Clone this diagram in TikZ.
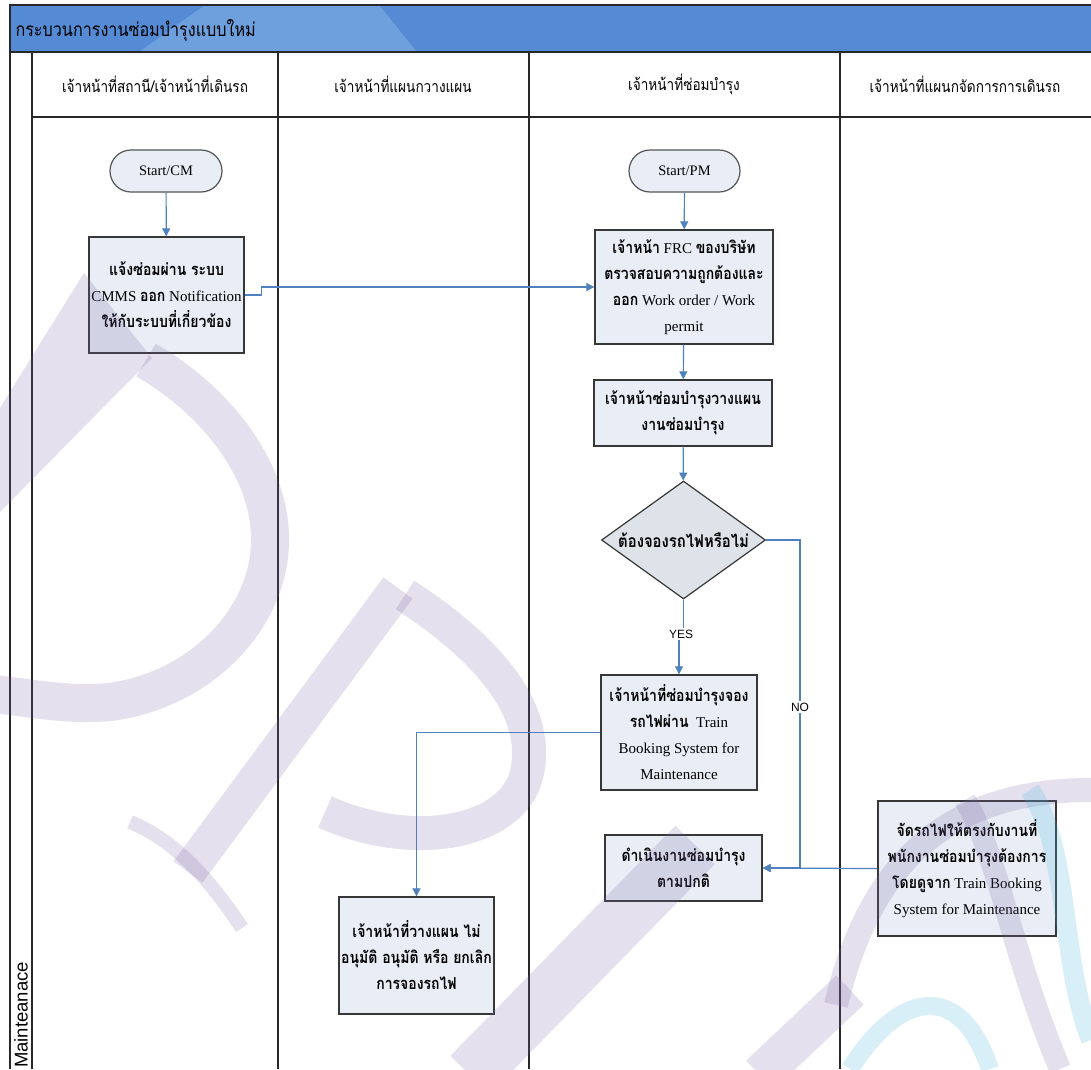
\documentclass[tikz,border=0pt]{standalone}
\usepackage{fontspec}
\setmainfont{Liberation Serif}
\newfontfamily\thfont[Script=Thai,FakeStretch=0.85]{Loma}
\newfontfamily\arialfont{Liberation Sans}
\usetikzlibrary{shapes.geometric,shapes.misc,arrows.meta}
\newcommand{\tht}[1]{{\thfont\bfseries\fontsize{16.5}{26}\selectfont #1}}

\definecolor{barblue}{RGB}{84,139,212}
\definecolor{barlight}{RGB}{110,160,222}
\definecolor{flowblue}{RGB}{79,129,189}
\definecolor{boxfill}{RGB}{233,238,246}
\definecolor{boxline}{RGB}{55,55,55}
\definecolor{termline}{RGB}{85,85,85}
\definecolor{gridline}{RGB}{40,40,40}
\definecolor{wmlav}{RGB}{120,100,165}
\definecolor{wmteal}{RGB}{80,185,225}

\tikzset{
  procbox/.style={rectangle, draw=boxline, line width=1.4pt, fill=boxfill, inner sep=0pt, align=center, font=\fontsize{15}{26}\selectfont},
  termbox/.style={rounded rectangle, draw=termline, line width=1.2pt, fill=boxfill, inner sep=0pt, font=\fontsize{14.5}{16}\selectfont},
  decbox/.style={diamond, draw=boxline, line width=1.2pt, fill=boxfill!90!gray, inner sep=0pt},
  flow/.style={draw=flowblue, line width=1.2pt, -{Triangle[width=8pt,length=8pt]}},
  flowlabel/.style={fill=white, inner sep=2pt, font=\arialfont\fontsize{12}{14}\selectfont},
  lanehead/.style={font=\thfont\fontsize{16}{18}\selectfont},
  grid/.style={draw=gridline, line width=1.2pt},
  wm/.style={draw=wmlav, draw opacity=0.2},
  wmfill/.style={fill=wmlav, fill opacity=0.2},
  wmt/.style={draw=wmteal, draw opacity=0.22},
}

\begin{document}
\begin{tikzpicture}[x=1pt,y=-1pt]
\useasboundingbox (0,0) rectangle (1091,1069);
\clip (0,0) rectangle (1091,1069);
\fill[white] (0,0) rectangle (1091,1069);

% pool title bar
\fill[barblue] (10,5) rectangle (1091,52);
\fill[barlight] (139,52) -- (205,5) -- (379,5) -- (417,52) -- cycle;
\node[anchor=west, font=\thfont\fontsize{19}{20}\selectfont] (title) at (12,30) {กระบวนการงานซ่อมบำรุงแบบใหม่};

% lane grid
\draw[grid] (1091,5) -- (10,5) -- (10,1069);
\draw[grid] (10,52) -- (1091,52);
\draw[grid] (32,117) -- (1091,117);
\draw[grid] (32,52) -- (32,1069);
\foreach \lx in {278,529,840} \draw[grid] (\lx,52) -- (\lx,1069);

% lane headings
\node[lanehead] (h1) at (155,84) {เจ้าหน้าที่สถานี/เจ้าหน้าที่เดินรถ};
\node[lanehead] (h2) at (403,84) {เจ้าหน้าที่แผนกวางแผน};
\node[lanehead] (h3) at (684,84) {เจ้าหน้าที่ซ่อมบำรุง};
\node[lanehead] (h4) at (965,84) {เจ้าหน้าที่แผนกจัดการการเดินรถ};
\node[rotate=90, anchor=west, inner sep=0pt, font=\arialfont\fontsize{18.5}{20}\selectfont] (pool) at (21,1068) {Mainteanace};

% process steps
\node[termbox, minimum width=112pt, minimum height=42pt] (scm) at (166,171) {Start/CM};
\node[termbox, minimum width=111pt, minimum height=42pt] (spm) at (684.5,171) {Start/PM};
\node[procbox, minimum width=155pt, minimum height=116pt] (b1) at (166.5,295)
  {\tht{แจ้งซ่อมผ่าน ระบบ}\\CMMS \tht{ออก} Notification\\\tht{ให้กับระบบที่เกี่ยวข้อง}};
\node[procbox, minimum width=178pt, minimum height=114pt] (frc) at (684,287)
  {\tht{เจ้าหน้า} FRC \tht{ของบริษัท}\\\tht{ตรวจสอบความถูกต้องและ}\\\tht{ออก} Work order / Work\\permit};
\node[procbox, minimum width=178pt, minimum height=66pt] (plan) at (683,413)
  {\tht{เจ้าหน้าซ่อมบำรุงวางแผน}\\\tht{งานซ่อมบำรุง}};
\node[decbox, minimum width=164pt, minimum height=118pt] (dia) at (683.5,540) {};
\node[inner sep=0pt, font=\thfont\bfseries\fontsize{17.5}{20}\selectfont] (diatext) at (dia.center) {ต้องจองรถไฟหรือไม่};
\node[procbox, minimum width=156pt, minimum height=115pt] (book) at (679,732.5)
  {\tht{เจ้าหน้าที่ซ่อมบำรุงจอง}\\\tht{รถไฟผ่าน}\ \ Train\\Booking System for\\Maintenance};
\node[procbox, minimum width=157pt, minimum height=66pt] (ope) at (683.5,868)
  {\tht{ดำเนินงานซ่อมบำรุง}\\\tht{ตามปกติ}};
\node[procbox, minimum width=178pt, minimum height=135pt] (rb) at (967,868.5)
  {\tht{จัดรถไฟให้ตรงกับงานที่}\\\tht{พนักงานซ่อมบำรุงต้องการ}\\\tht{โดยดูจาก} Train Booking\\System for Maintenance};
\node[procbox, minimum width=155pt, minimum height=117pt] (plr) at (416.5,955.5)
  {\tht{เจ้าหน้าที่วางแผน ไม่}\\\tht{อนุมัติ อนุมัติ หรือ ยกเลิก}\\\tht{การจองรถไฟ}};

% connectors
\draw[flow] (scm) -- (b1);
\draw[flow] (b1.east) -- ++(17,0) |- (frc.west);
\draw[flow] (spm) -- (frc);
\draw[flow] (frc) -- (plan);
\draw[flow] (plan) -- (dia);
\draw[flow] (dia.south) -- ++(0,34) -| (book.north);
\node[flowlabel] (yes) at (681,634) {YES};
\coordinate (nojoin) at (800,868);
\draw[flow] (dia.east) -| (nojoin) -- (ope.east);
\node[flowlabel] (no) at (800,707) {NO};
\draw[flow] (rb.west) -- (ope.east);
\draw[flow] (book.west) -| (plr.north);

% background watermark strokes
\fill[wmfill] (84,273) -- (152,358) -- (0,512) -- (0,408) -- cycle;
\draw[wm, line width=38pt] (146,360) .. controls (215,400) and (272,470) .. (270,543)
  .. controls (268,620) and (200,690) .. (110,702) .. controls (70,706) and (30,698) .. (-5,694);
\draw[wm, line width=36pt] (398,588) -- (188,872);
\draw[wm, line width=14pt] (130,822) .. controls (175,840) and (210,880) .. (242,928);
\draw[wm, line width=34pt] (405,595) .. controls (490,650) and (545,715) .. (525,780)
  .. controls (505,835) and (410,850) .. (325,812);
\draw[wm, line width=55pt] (470,1075) -- (695,845);
\draw[wm, line width=40pt] (760,1075) -- (850,990);
\draw[wm, line width=24pt] (836,1005) .. controls (870,860) and (950,790) .. (1091,790);
\draw[wm, line width=22pt] (965,800) .. controls (1000,860) and (1010,950) .. (1060,1069);
\draw[wmt, line width=20pt] (1030,790) .. controls (1070,850) and (1060,960) .. (1091,1040);
\draw[wmt, line width=18pt] (850,1069) .. controls (900,990) and (960,980) .. (990,1069);
\end{tikzpicture}
\end{document}
